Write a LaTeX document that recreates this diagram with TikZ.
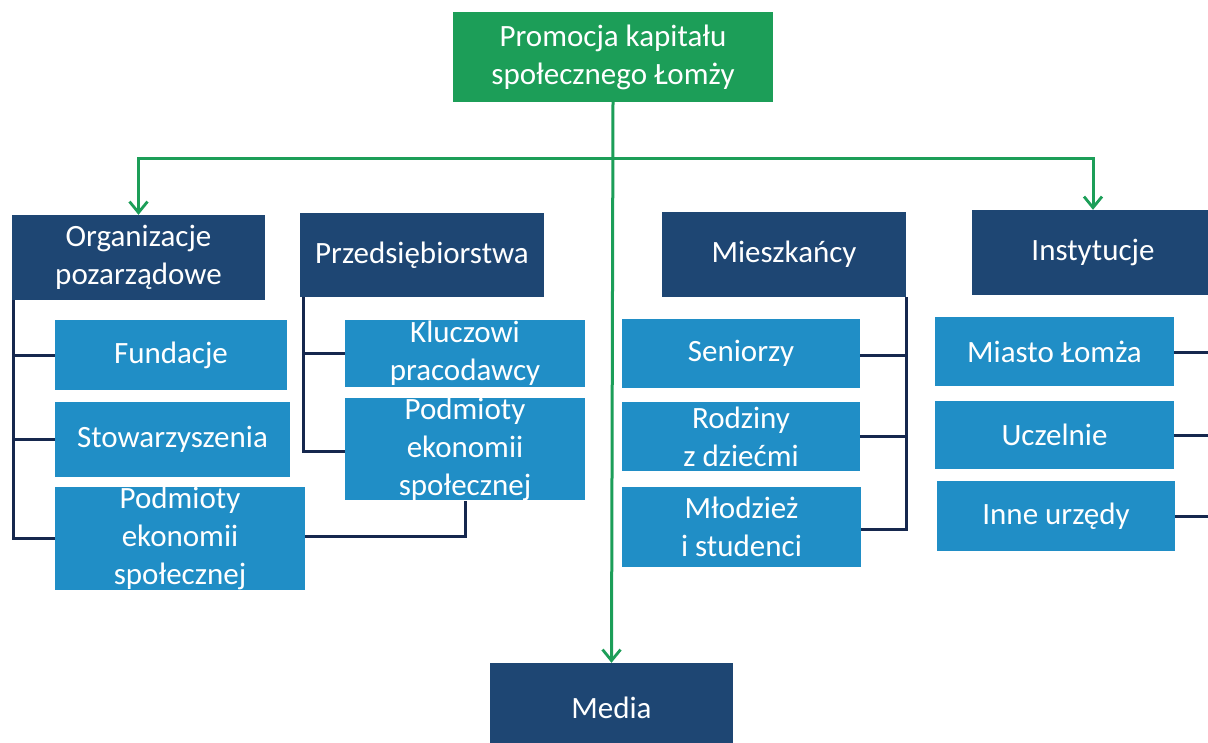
\documentclass[tikz,border=0pt]{standalone}
\usepackage{fontspec}
\setmainfont{Carlito}
\usetikzlibrary{arrows.meta}
\definecolor{topgreen}{RGB}{28,158,88}
\definecolor{navybox}{RGB}{30,70,115}
\definecolor{skybox}{RGB}{32,142,198}
\definecolor{linknavy}{RGB}{22,40,78}
\tikzset{
  box/.style={rectangle, inner sep=0pt, align=center, text=white,
    font=\fontsize{31}{38}\selectfont},
  greenbox/.style={box, fill=topgreen},
  headbox/.style={box, fill=navybox},
  subbox/.style={box, fill=skybox},
  feed/.style={draw=topgreen, line width=3pt, -{Straight Barb[length=11pt,width=18pt,line width=2.8pt]}},
  link/.style={draw=linknavy, line width=3pt}
}
\begin{document}
\begin{tikzpicture}[x=1pt,y=-1pt]
\useasboundingbox (0,0) rectangle (1208,742);
\clip (0,0) rectangle (1208,742);
\fill[white] (0,0) rectangle (1208,742);

% root
\node[greenbox, minimum width=320pt, minimum height=90pt] (top) at (613,57)
  {Promocja kapitału\\społecznego Łomży};

% main groups
\node[headbox, minimum width=253pt, minimum height=85pt] (org) at (138.5,257.5)
  {Organizacje\\pozarządowe};
\node[headbox, minimum width=244pt, minimum height=84pt] (prz) at (422,255)
  {Przedsiębiorstwa};
\node[headbox, minimum width=244pt, minimum height=85pt] (mie) at (784,254.5)
  {Mieszkańcy};
\node[headbox, minimum width=242pt, minimum height=85pt] (ins) at (1093,252.5)
  {Instytucje};
\node[headbox, minimum width=243pt, minimum height=90pt] (media) at (611.5,708)
  {Media};

% NGO members
\node[subbox, minimum width=232pt, minimum height=70pt] (fund) at (171,355) {Fundacje};
\node[subbox, minimum width=235pt, minimum height=75pt] (stow) at (172.5,439.5) {Stowarzyszenia};
\node[subbox, minimum width=250pt, minimum height=97pt] (pes1) at (180,538.5)
  {Podmioty\\ekonomii\\społecznej};

% business members
\node[subbox, minimum width=240pt, minimum height=67pt] (klucz) at (465,353.5)
  {Kluczowi\\pracodawcy};
\node[subbox, minimum width=240pt, minimum height=98pt] (pes2) at (465,449)
  {Podmioty\\ekonomii\\społecznej};

% residents
\node[subbox, minimum width=238pt, minimum height=69pt] (sen) at (741,353.5) {Seniorzy};
\node[subbox, minimum width=238pt, minimum height=69pt] (rodz) at (741,436.5)
  {Rodziny\\z dziećmi};
\node[subbox, minimum width=239pt, minimum height=80pt] (mlod) at (741.5,527)
  {Młodzież\\i studenci};

% institutions
\node[subbox, minimum width=239pt, minimum height=69pt] (miasto) at (1054.5,351.5) {Miasto Łomża};
\node[subbox, minimum width=239pt, minimum height=68pt] (ucz) at (1054.5,435) {Uczelnie};
\node[subbox, minimum width=238pt, minimum height=70pt] (inne) at (1056,516) {Inne urzędy};

% green distribution lines
\coordinate (hub) at (top.south |- 0,158);
\draw[feed] (top.south) -- (media.north);
\draw[feed] (hub) -| (org.north);
\draw[feed] (hub) -| (ins.north);

% group connectors
\draw[link] ([xshift=2pt]org.south west) |- (fund.west);
\draw[link] ([xshift=2pt]org.south west) |- (stow.west);
\draw[link] ([xshift=2pt]org.south west) |- (pes1.west);

\draw[link] ([xshift=4pt]prz.south west) |- (klucz.west);
\draw[link] ([xshift=4pt]prz.south west) |- ([yshift=-2pt]pes2.west);
\draw[link] ([yshift=2pt]pes1.east) -| (pes2.south);

\draw[link] (mie.south east) |- ([yshift=-2pt]sen.east);
\draw[link] (mie.south east) |- (rodz.east);
\draw[link] (mie.south east) |- ([yshift=-2pt]mlod.east);

\draw[link] (ins.south east) |- ([yshift=-1pt]miasto.east);
\draw[link] (ins.south east) |- (ucz.east);
\draw[link] (ins.south east) |- (inne.east);
\end{tikzpicture}
\end{document}
